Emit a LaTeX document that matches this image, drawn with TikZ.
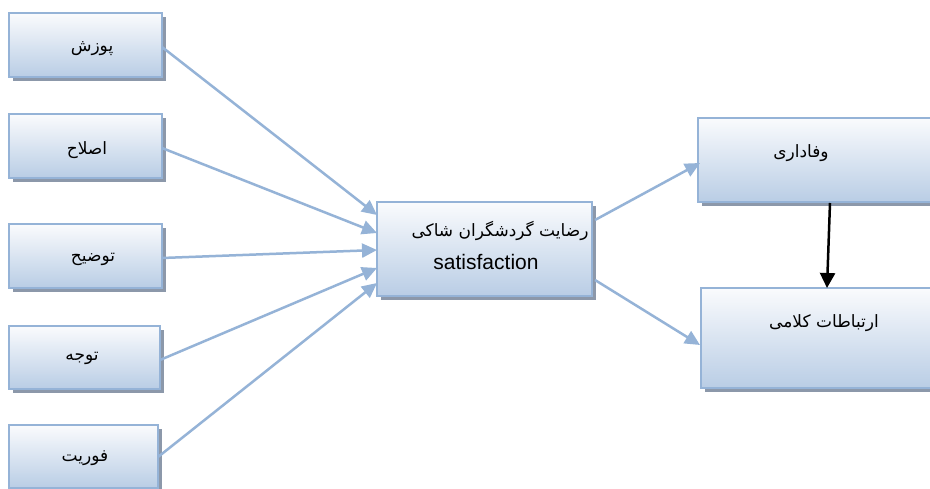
\documentclass[tikz,border=0pt]{standalone}
\usepackage{fontspec}
\setmainfont{Liberation Sans}
\newfontfamily\fa[Script=Arabic]{DejaVu Sans}
\TeXXeTstate=1
\usetikzlibrary{arrows.meta,shadows}
\definecolor{edgeblue}{RGB}{149,179,215}
\definecolor{boxtop}{RGB}{250,251,253}
\definecolor{boxbot}{RGB}{185,205,229}
\definecolor{shadegray}{RGB}{140,152,170}
\begin{document}
\begin{tikzpicture}[x=1pt,y=-1pt,
  box/.style={draw=edgeblue,line width=2.2pt,top color=boxtop,bottom color=boxbot,
    inner sep=0pt,outer sep=0pt,
    drop shadow={shadow xshift=4pt,shadow yshift=-4pt,fill=shadegray,opacity=1}},
  lbl/.style={inner sep=0pt,font=\fa\fontsize{17}{20}\selectfont},
  link/.style={draw=edgeblue,line width=2.5pt,-{Triangle[length=15pt,width=14pt]}},
  blacklink/.style={draw=black,line width=2.5pt,-{Triangle[length=15pt,width=15pt]}}]
\useasboundingbox (0,0) rectangle (930,489);
\clip (0,0) rectangle (930,489);
\fill[white] (0,0) rectangle (930,489);

% input factors
\node[box,minimum width=153pt,minimum height=64pt] (b1) at (85.5,45) {};
\node[box,minimum width=153pt,minimum height=64pt] (b2) at (85.5,146) {};
\node[box,minimum width=153pt,minimum height=64pt] (b3) at (85.5,256) {};
\node[box,minimum width=151pt,minimum height=63pt] (b4) at (84.5,357.5) {};
\node[box,minimum width=149pt,minimum height=63pt] (b5) at (83.5,456.5) {};

% central construct
\node[box,minimum width=215pt,minimum height=94pt] (c) at (484.5,249) {};

% outcomes
\node[box,minimum width=282pt,minimum height=84pt] (r1) at (839,160) {};
\node[box,minimum width=279pt,minimum height=100pt] (r2) at (840.5,338) {};

% labels
\node[lbl] (t1) at (92,49) {\beginR پوزش\endR};
\node[lbl] (t2) at (87,150) {\beginR اصلاح\endR};
\node[lbl] (t3) at (93,259) {\beginR توضیح\endR};
\node[lbl] (t4) at (82,358) {\beginR توجه\endR};
\node[lbl] (t5) at (85,458) {\beginR فوریت\endR};
\node[lbl] (t6) at (500,231) {\beginR رضایت گردشگران شاکی\endR};
\node[inner sep=0pt,font=\fontsize{21}{24}\selectfont] (t7) at (486,262) {satisfaction};
\node[lbl] (t8) at (801,153) {\beginR وفاداری\endR};
\node[lbl] (t9) at (824,323) {\beginR ارتباطات کلامی\endR};

% connectors
\draw[link] ([yshift=-2pt]b1.east) -- ([yshift=34pt]c.west);
\draw[link] ([yshift=-2pt]b2.east) -- ([yshift=16pt]c.west);
\draw[link] ([yshift=-2pt]b3.east) -- ([yshift=-1pt]c.west);
\draw[link] ([yshift=-2.5pt]b4.east) -- ([yshift=-19pt]c.west);
\draw[link] ([yshift=-0.5pt]b5.east) -- ([yshift=-34pt]c.west);
\draw[link] ([xshift=3pt,yshift=29pt]c.east) -- ([xshift=2pt,yshift=-3pt]r1.west);
\draw[link] ([xshift=3pt,yshift=-31pt]c.east) -- ([xshift=-1pt,yshift=-7pt]r2.west);
\draw[blacklink] ([xshift=132pt,yshift=-1pt]r1.south west) -- ([xshift=126pt]r2.north west);
\end{tikzpicture}
\end{document}
